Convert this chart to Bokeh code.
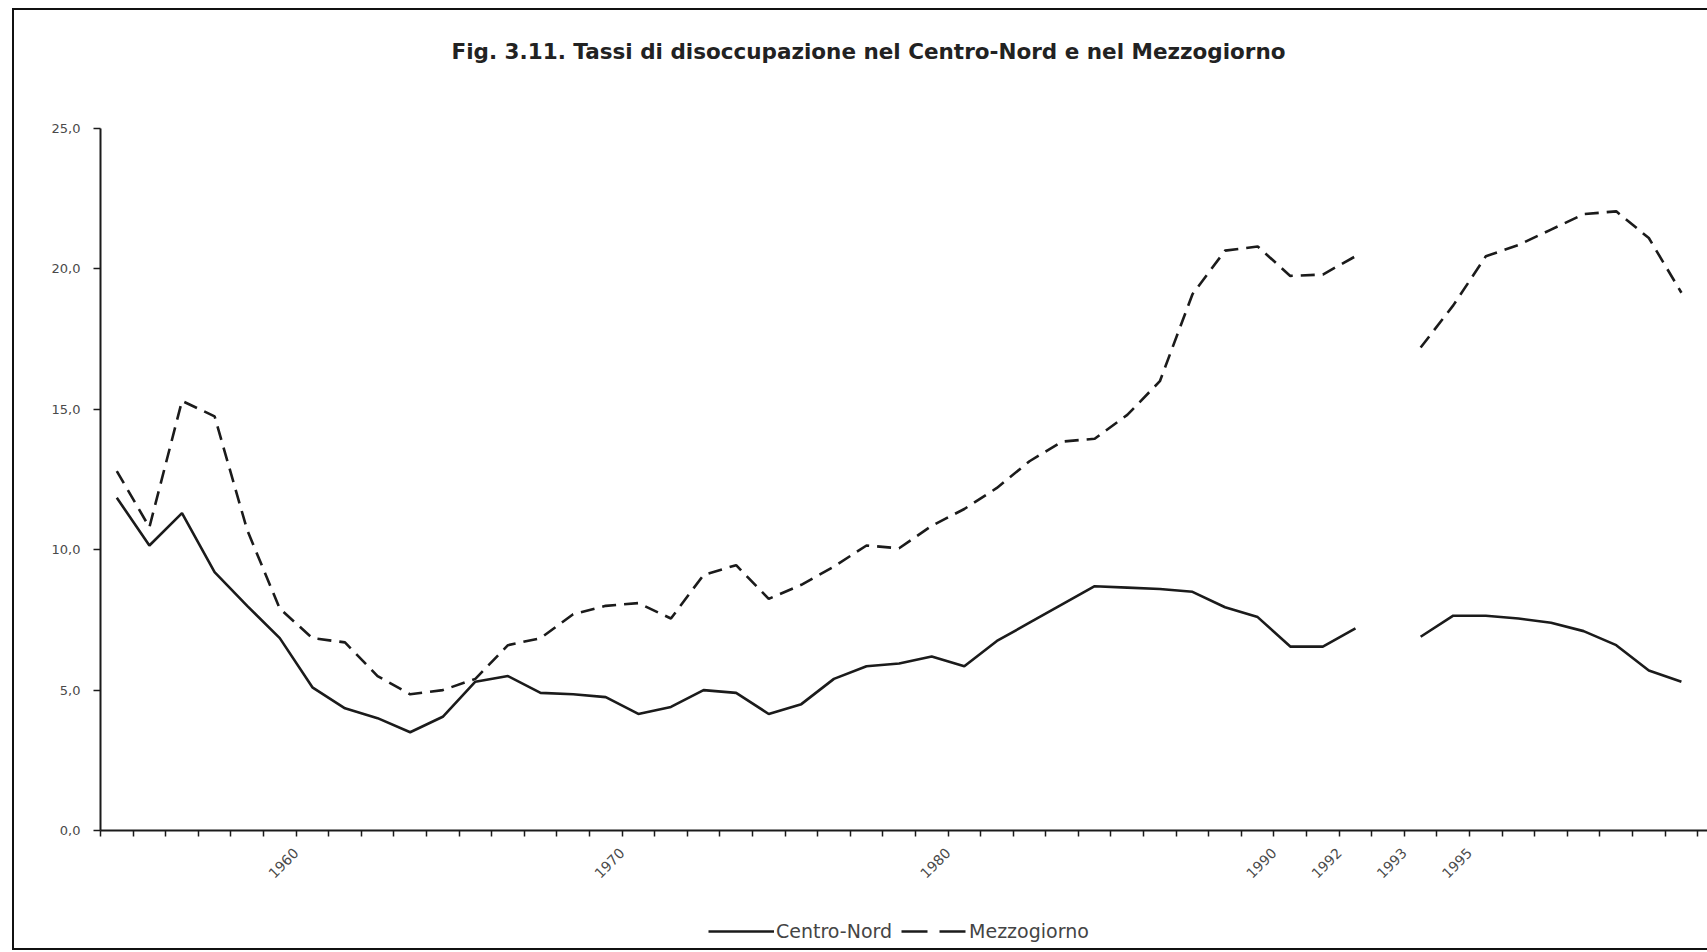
import math
from bokeh.plotting import figure
from bokeh.layouts import column
from bokeh.models import Range1d, FixedTicker, Legend, LegendItem, Label
from bokeh.embed import file_html
from bokeh.resources import INLINE

# ---- data -------------------------------------------------------------
# categories: 1954-1992 (old series), an empty slot for the series break, 1993-2001
categories = [str(y) for y in range(1954, 1993)] + [""] + [str(y) for y in range(1993, 2002)]
shown_labels = ["1960", "1970", "1980", "1990", "1992", "1993", "1995"]

NaN = float("nan")
centro_nord = [11.85, 10.15, 11.3, 9.2, 8.0, 6.85, 5.1, 4.35, 4.0, 3.5,
               4.05, 5.3, 5.5, 4.9, 4.85, 4.75, 4.15, 4.4, 5.0, 4.9,
               4.15, 4.5, 5.4, 5.85, 5.95, 6.2, 5.85, 6.75, 7.4, 8.05,
               8.7, 8.65, 8.6, 8.5, 7.95, 7.6, 6.55, 6.55, 7.2, NaN,
               6.9, 7.65, 7.65, 7.55, 7.4, 7.1, 6.6, 5.7, 5.3]
mezzogiorno = [12.8, 10.8, 15.3, 14.75, 10.7, 7.9, 6.85, 6.7, 5.5, 4.85,
               5.0, 5.4, 6.6, 6.85, 7.7, 8.0, 8.1, 7.55, 9.1, 9.45,
               8.25, 8.75, 9.4, 10.15, 10.05, 10.85, 11.45, 12.2, 13.15, 13.85,
               13.95, 14.8, 16.0, 19.1, 20.65, 20.8, 19.75, 19.8, 20.45, NaN,
               17.2, 18.7, 20.45, 20.85, 21.4, 21.95, 22.05, 21.1, 19.15]

y_ticks = [0, 5, 10, 15, 20, 25]
y_tick_labels = ["0,0", "5,0", "10,0", "15,0", "20,0", "25,0"]

title_text = "Fig. 3.11. Tassi di disoccupazione nel Centro-Nord e nel Mezzogiorno"
series_names = ["Centro-Nord", "Mezzogiorno"]

W = 1693
LEFT = 86            # left border of every plot frame (frames are aligned in the column)
FW = W - LEFT        # frame width
col = "#1b1b1b"

# ---- title strip ------------------------------------------------------
p0 = figure(width=W, height=100, output_backend="svg", toolbar_location=None,
            x_axis_type=None, y_axis_type=None, title=None,
            x_range=Range1d(0, FW), y_range=Range1d(0, 100),
            min_border=0, min_border_left=LEFT)
p0.outline_line_color = None
p0.grid.visible = False
p0.add_layout(Label(x=768, y=59, text=title_text, text_align="center",
                    text_baseline="middle", text_font="DejaVu Sans",
                    text_font_size="21.5px", text_font_style="bold",
                    text_color="#222222"))

# ---- main chart -------------------------------------------------------
x = list(range(len(categories)))

p = figure(width=W, height=782, output_backend="svg", toolbar_location=None,
           title=None, x_range=Range1d(-0.5, 48.8), y_range=Range1d(0, 25),
           min_border_left=LEFT, min_border_right=0, min_border_top=18,
           min_border_bottom=62)
p.outline_line_color = None
p.xgrid.visible = False
p.ygrid.visible = False

r1 = p.line(x, centro_nord, line_color=col, line_width=2.6)
r2 = p.line(x, mezzogiorno, line_color=col, line_width=2.6, line_dash="14 8")

# x axis: ticks at category boundaries, a few labels
boundaries = [i - 0.5 for i in range(len(categories) + 1)]
overrides = {b: "" for b in boundaries}
for lab in shown_labels:
    overrides[categories.index(lab) - 0.5] = lab
xa = p.xaxis[0]
xa.ticker = FixedTicker(ticks=boundaries)
xa.major_label_overrides = overrides
xa.major_label_orientation = math.pi / 4
xa.minor_tick_line_color = None
xa.major_tick_in = 0
xa.major_tick_out = 6
xa.major_tick_line_width = 1.5
xa.major_tick_line_color = col
xa.axis_line_width = 2
xa.axis_line_color = col
xa.major_label_text_font = "DejaVu Sans"
xa.major_label_text_font_size = "14px"
xa.major_label_text_color = "#4a4a4a"
xa.major_label_standoff = 14

ya = p.yaxis[0]
ya.ticker = FixedTicker(ticks=y_ticks)
ya.major_label_overrides = {t: l for t, l in zip(y_ticks, y_tick_labels)}
ya.minor_tick_line_color = None
ya.major_tick_in = 0
ya.major_tick_out = 7
ya.major_tick_line_width = 1.5
ya.major_tick_line_color = col
ya.axis_line_width = 2
ya.axis_line_color = col
ya.major_label_text_font = "DejaVu Sans"
ya.major_label_text_font_size = "13px"
ya.major_label_text_color = "#4a4a4a"
ya.major_label_standoff = 13

# ---- legend strip -----------------------------------------------------
p2 = figure(width=W, height=56, output_backend="svg", toolbar_location=None,
            x_axis_type=None, y_axis_type=None, title=None,
            x_range=Range1d(0, 1), y_range=Range1d(0, 1),
            min_border=0, min_border_left=LEFT)
p2.outline_line_color = None
p2.grid.visible = False
# legend keys only (no visible data in this strip)
l1 = p2.line([NaN], [NaN], line_color=col, line_width=2.6)
l2 = p2.line([NaN], [NaN], line_color=col, line_width=2.6, line_dash="26 12")
legend = Legend(items=[LegendItem(label=series_names[0], renderers=[l1]),
                       LegendItem(label=series_names[1], renderers=[l2])],
                orientation="horizontal", location=(608, 6),
                glyph_width=66, glyph_height=14, label_standoff=2, spacing=9,
                label_text_font="DejaVu Sans", label_text_font_size="19px",
                label_text_color="#444444", border_line_color=None,
                background_fill_alpha=0, padding=0, margin=0)
p2.add_layout(legend, "center")

lay = column(p0, p, p2, spacing=0)
lay.styles = {"border-left": "2px solid #111111", "border-top": "2px solid #111111",
              "border-bottom": "2px solid #111111", "margin-left": "12px",
              "margin-top": "8px"}

open("out.html", "w").write(file_html(lay, INLINE))
